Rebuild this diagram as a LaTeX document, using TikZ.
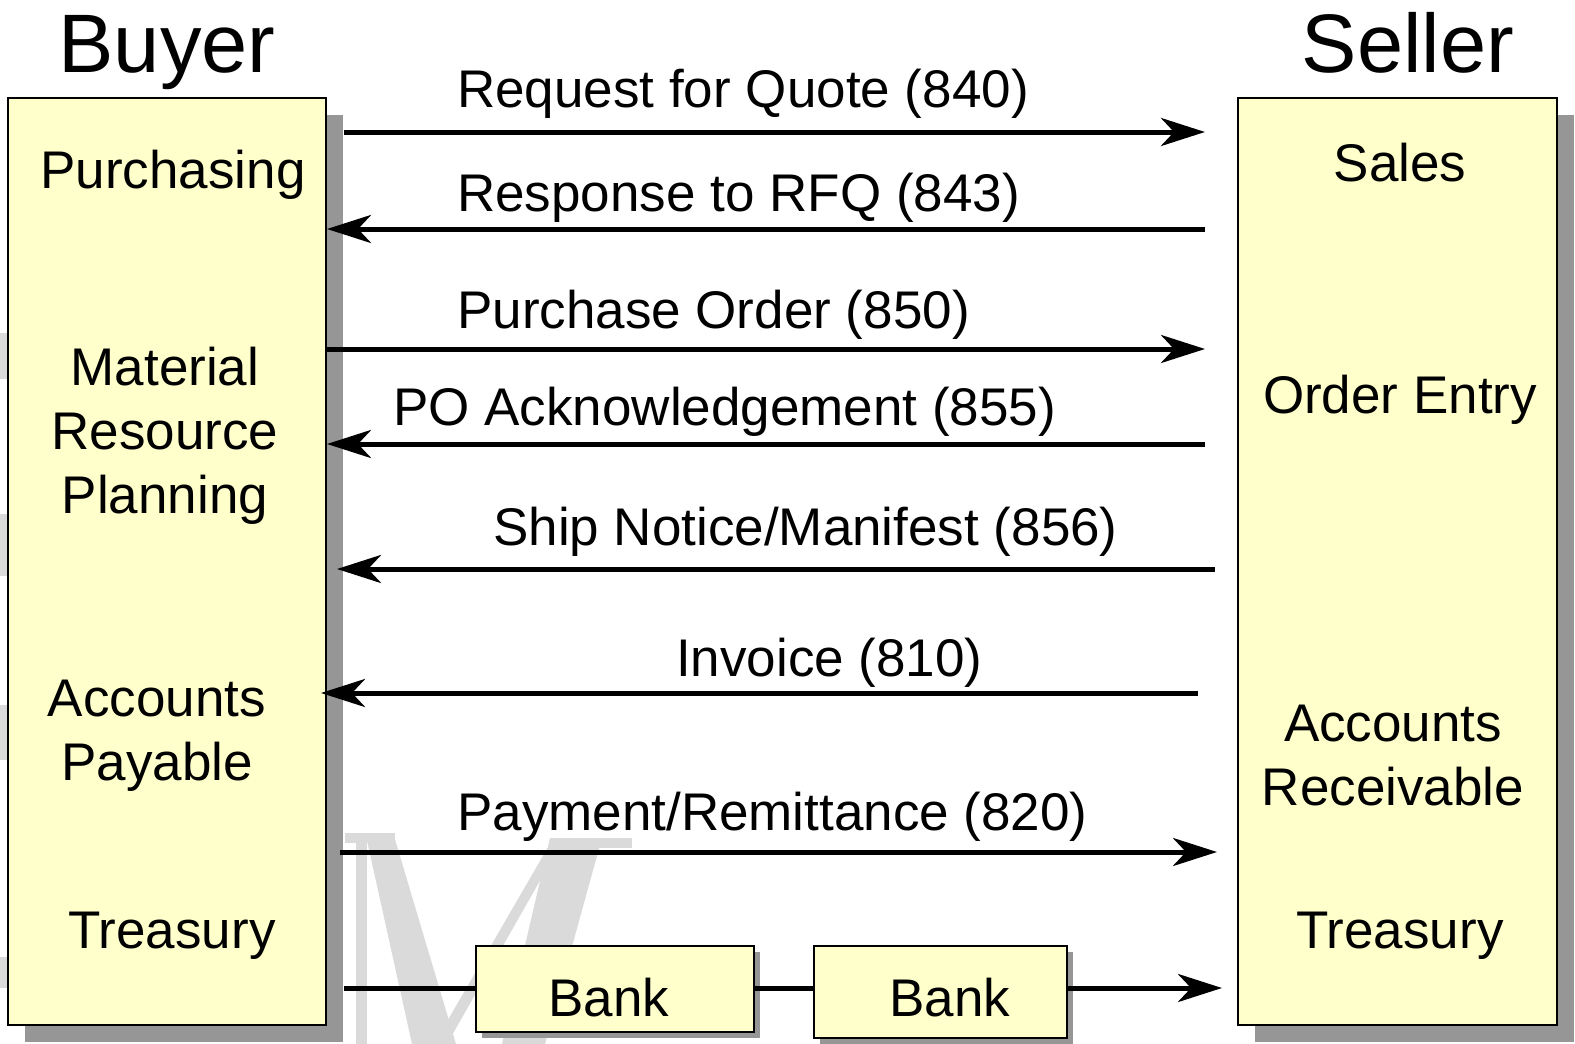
\documentclass[tikz,border=0pt]{standalone}
\usepackage{fontspec}
\setmainfont{Liberation Sans}
\usetikzlibrary{arrows.meta,shadows}
\definecolor{boxfill}{HTML}{FFFFCC}
\definecolor{shadowgray}{HTML}{969696}
\definecolor{wm}{HTML}{DADADA}
\tikzset{
  bigbox/.style={draw=black, line width=2.5pt, fill=boxfill, inner sep=0pt,
    general shadow={fill=shadowgray, shadow xshift=17pt, shadow yshift=-17pt}},
  bankbox/.style={draw=black, line width=2.5pt, fill=boxfill, inner sep=0pt,
    general shadow={fill=shadowgray, shadow xshift=6pt, shadow yshift=-6pt}},
  lbl/.style={inner sep=0pt, font=\fontsize{53pt}{64pt}\selectfont, align=center},
  head/.style={inner sep=0pt, font=\fontsize{83pt}{90pt}\selectfont},
  msg/.style={line width=5pt, -{Stealth[length=44pt,width=28pt,inset=13pt]}},
  link/.style={line width=5pt},
}
\begin{document}
\begin{tikzpicture}[x=1pt,y=-1pt]
\useasboundingbox (0,0) rectangle (1575,1044);
% faint watermark
\fill[wm] (345,833) rectangle (395,843);
\fill[wm] (356,843) rectangle (367,1044);
\fill[wm] (366,836) -- (394,836) -- (456,1044) -- (412,1044) -- cycle;
\fill[wm] (550,838) -- (602,838) -- (545,1044) -- (502,1044) -- cycle;
\fill[wm] (590,838) rectangle (632,848);
\fill[wm] (434,1044) -- (447,1044) -- (562,842) -- (551,842) -- cycle;
\fill[wm] (0,333) rectangle (8,379);
\fill[wm] (0,514) rectangle (8,576);
\fill[wm] (0,705) rectangle (8,760);
\fill[wm] (0,957) rectangle (8,988);
% boxes
\node[bigbox, minimum width=318pt, minimum height=927pt] (buyer) at (167,561.5) {};
\node[bigbox, minimum width=319pt, minimum height=927pt] (seller) at (1397.5,561.5) {};
\node[bankbox, minimum width=278pt, minimum height=86pt] (bank1) at (615,989) {};
\node[bankbox, minimum width=253pt, minimum height=92pt] (bank2) at (940.5,992) {};
% headings
\node[head, anchor=base] (buyerhead) at (167,72) {Buyer};
\node[head, anchor=base] (sellerhead) at (1408,72) {Seller};
% buyer departments
\node[lbl, anchor=base] (purch) at (173,188) {Purchasing};
\node[lbl, anchor=base] (mrp) at (165,513) {Material\\Resource\\Planning};
\node[lbl, anchor=base] (ap) at (157,780) {Accounts\\Payable};
\node[lbl, anchor=base] (btreas) at (172,948) {Treasury};
% seller departments
\node[lbl, anchor=base] (sales) at (1400,181) {Sales};
\node[lbl, anchor=base] (oe) at (1400,413) {Order Entry};
\node[lbl, anchor=base] (ar) at (1393,805) {Accounts\\Receivable};
\node[lbl, anchor=base] (streas) at (1400,948) {Treasury};
% banks
\node[lbl, anchor=base] (b1t) at (609,1016) {Bank};
\node[lbl, anchor=base] (b2t) at (950,1016) {Bank};
% message labels
\node[lbl, anchor=base west] (l1) at (457,107) {Request for Quote (840)};
\node[lbl, anchor=base west] (l2) at (457,211) {Response to RFQ (843)};
\node[lbl, anchor=base west] (l3) at (457,328) {Purchase Order (850)};
\node[lbl, anchor=base west] (l4) at (393,425) {PO Acknowledgement (855)};
\node[lbl, anchor=base west] (l5) at (493,545) {Ship Notice/Manifest (856)};
\node[lbl, anchor=base west] (l6) at (676,676) {Invoice (810)};
\node[lbl, anchor=base west] (l7) at (457,830) {Payment/Remittance (820)};
% connector end points
\coordinate (a1s) at (344,132);  \coordinate (a1e) at (1205,132);
\coordinate (a2s) at (1205,229); \coordinate (a2e) at (327,229);
\coordinate (a3s) at (327,349);  \coordinate (a3e) at (1205,349);
\coordinate (a4s) at (1205,444); \coordinate (a4e) at (327,444);
\coordinate (a5s) at (1215,569); \coordinate (a5e) at (337,569);
\coordinate (a6s) at (1198,693); \coordinate (a6e) at (321,693);
\coordinate (a7s) at (340,852);  \coordinate (a7e) at (1217,852);
\coordinate (a8s) at (344,988);  \coordinate (a8e) at (1222,988);
% connectors
\draw[msg] (a1s) -- (a1e);
\draw[msg] (a2s) -- (a2e);
\draw[msg] (a3s) -- (a3e);
\draw[msg] (a4s) -- (a4e);
\draw[msg] (a5s) -- (a5e);
\draw[msg] (a6s) -- (a6e);
\draw[msg] (a7s) -- (a7e);
\draw[link] (a8s) -- (a8s -| bank1.west);
\draw[link] (a8s -| bank1.east) -- (a8s -| bank2.west);
\draw[msg] (a8s -| bank2.east) -- (a8e);
\end{tikzpicture}
\end{document}
